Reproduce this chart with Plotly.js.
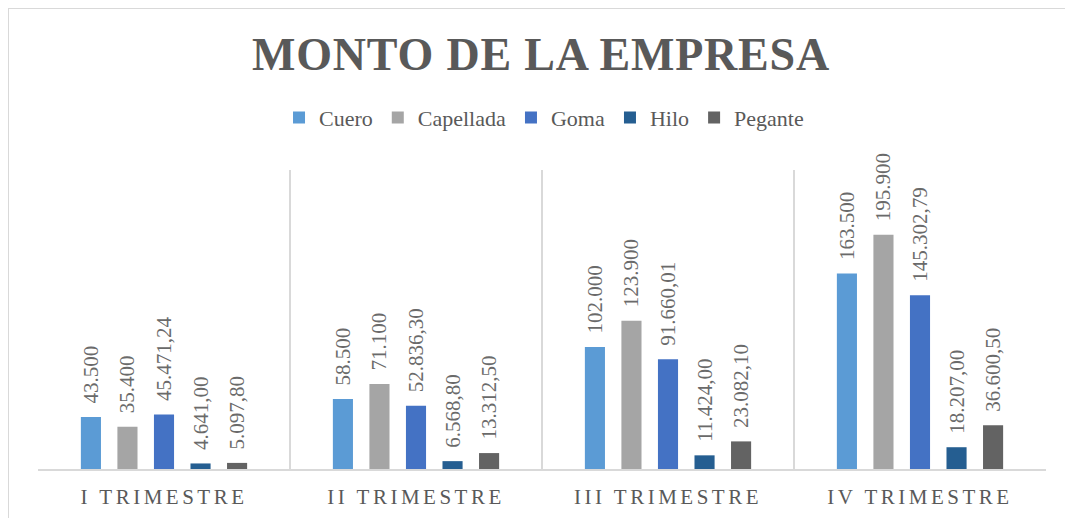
<!DOCTYPE html>
<html>
<head>
<meta charset="utf-8">
<script src="https://cdn.plot.ly/plotly-3.0.1.min.js"></script>
<style>
  html, body { margin: 0; padding: 0; background: #fff; }
  #wrap { position: relative; width: 1065px; height: 518px; overflow: hidden; }
  #chart { width: 1065px; height: 518px; }
  #frame { position: absolute; left: 8px; top: 8px; width: 1100px; height: 560px;
           border: 1px solid #d9d9d9; pointer-events: none; box-sizing: border-box; }
  .xtick text { letter-spacing: 3.5px; }
  .gtitle { letter-spacing: 0.8px; }
</style>
</head>
<body>
<div id="wrap">
  <div id="chart"></div>
  <div id="frame"></div>
</div>
<script>
const categories = ["I TRIMESTRE", "II TRIMESTRE", "III TRIMESTRE", "IV TRIMESTRE"];
const cuero     = [43500, 58500, 102000, 163500];
const capellada = [35400, 71100, 123900, 195900];
const goma      = [45471.24, 52836.30, 91660.01, 145302.79];
const hilo      = [4641.00, 6568.80, 11424.00, 18207.00];
const pegante   = [5097.80, 13312.50, 23082.10, 36600.50];

const seriesNames  = ["Cuero", "Capellada", "Goma", "Hilo", "Pegante"];
const seriesValues = [cuero, capellada, goma, hilo, pegante];
const seriesColors = ["#5B9BD5", "#A5A5A5", "#4472C4", "#255E91", "#636363"];
const seriesFormat = ["%{y:,.0f}", "%{y:,.0f}", "%{y:,.2f}", "%{y:,.2f}", "%{y:,.2f}"];

const serif = "Liberation Serif";
const labelFont = { family: serif, size: 21, color: "#6a6a6a" };

const traces = seriesNames.map((name, i) => ({
  type: "bar",
  name: name,
  x: categories,
  y: seriesValues[i],
  marker: { color: seriesColors[i] },
  texttemplate: "&nbsp;&nbsp;" + seriesFormat[i],
  textposition: "outside",
  textangle: -90,
  constraintext: "none",
  cliponaxis: false,
  textfont: labelFont,
  outsidetextfont: labelFont,
  hoverinfo: "x+y+name"
}));

const layout = {
  width: 1065,
  height: 518,
  font: { family: serif, color: "#595959" },
  margin: { l: 38, r: 19, t: 170, b: 49 },
  paper_bgcolor: "#ffffff",
  plot_bgcolor: "#ffffff",
  separators: ",.",
  barmode: "group",
  bargap: 0.275,
  bargroupgap: 0.45,
  showlegend: true,
  title: {
    text: "<b>MONTO DE LA EMPRESA</b>",
    font: { family: serif, size: 46, color: "#595959" },
    x: 0.508, xanchor: "center",
    y: 0.895, yref: "container", yanchor: "middle"
  },
  legend: {
    orientation: "h",
    x: 0.502, xanchor: "center",
    y: 1.175, yanchor: "middle",
    font: { family: serif, size: 22, color: "#595959" },
    itemwidth: 30,
    tracegroupgap: 0
  },
  xaxis: {
    type: "category",
    tickson: "boundaries",
    ticks: "",
    showgrid: true,
    gridcolor: "#d9d9d9",
    gridwidth: 1.5,
    showline: true,
    linecolor: "#d9d9d9",
    linewidth: 1.5,
    ticklabelstandoff: 8,
    tickfont: { family: serif, size: 21, color: "#595959" },
    fixedrange: true
  },
  yaxis: {
    range: [0, 250000],
    visible: false,
    showgrid: false,
    zeroline: false,
    fixedrange: true
  }
};

Plotly.newPlot("chart", traces, layout, { displayModeBar: false, staticPlot: true });
</script>
</body>
</html>
